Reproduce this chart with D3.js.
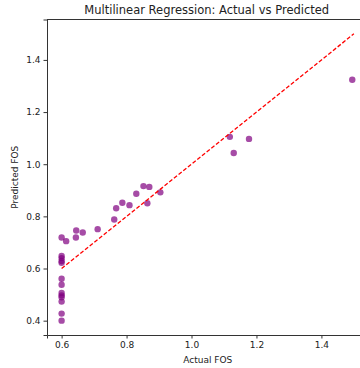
<head>
	<script src="https://d3js.org/d3.v7.min.js"></script>
	<style type="text/css">
		body { margin: 0; background: #fff; }
		text { font-family: 'DejaVu Sans', sans-serif; fill: #222; }
		.axis path, .axis line { stroke: #333; }
	</style>
</head>
<body>
	<script type="text/javascript">
		// actual vs predicted FOS
		const actual = [0.6, 0.614, 0.645, 0.644, 0.665, 0.711, 0.762, 0.768, 0.787, 0.809,
			0.83, 0.852, 0.870, 0.864, 0.904,
			0.6, 0.6, 0.6, 0.6, 0.6, 0.6, 0.6, 0.6, 0.6, 0.6, 0.6, 0.6,
			1.118, 1.177, 1.13, 1.495]
		const predicted = [0.719, 0.705, 0.746, 0.719, 0.738, 0.751, 0.788, 0.831, 0.852, 0.843,
			0.887, 0.916, 0.913, 0.850, 0.892,
			0.648, 0.64, 0.629, 0.622, 0.561, 0.538, 0.506, 0.497, 0.49, 0.473, 0.427, 0.40,
			1.105, 1.097, 1.043, 1.324]
		const xTicks = [0.6, 0.8, 1.0, 1.2, 1.4]
		const yTicks = [0.4, 0.6, 0.8, 1.0, 1.2, 1.4]
		const idealLine = [0.6, 1.5]

		const W = 360, H = 368
		const margin = {top: 19.5, right: -8.5, bottom: 33, left: 47}
		const width = W - margin.left - margin.right,
			  height = H - margin.top - margin.bottom

		const svg = d3.select('body').append('svg')
				.attr('width', W)
				.attr('height', H)
			.append('g')
				.attr('transform', 'translate('+margin.left+','+margin.top+')')

		const x = d3.scaleLinear()
			.domain([0.555, 1.545])
			.range([0, width])
		const y = d3.scaleLinear()
			.domain([0.345, 1.555])
			.range([height, 0])

		svg.append('g')
			.attr('class', 'axis')
			.attr('transform', 'translate(0,'+height+')')
			.call(d3.axisBottom(x).tickValues(xTicks).tickFormat(d3.format('.1f')).tickSize(3.5).tickPadding(3))
			.selectAll('text').style('font-size', '9px')

		svg.append('g')
			.attr('class', 'axis')
			.call(d3.axisLeft(y).tickValues(yTicks).tickFormat(d3.format('.1f')).tickSize(3.5).tickPadding(3))
			.selectAll('text').style('font-size', '9px')

		// top and right spines
		svg.append('line')
			.attr('x1', 0).attr('x2', width)
			.attr('y1', 0).attr('y2', 0)
			.attr('stroke', '#333')
		svg.append('line')
			.attr('x1', width).attr('x2', width)
			.attr('y1', 0).attr('y2', height)
			.attr('stroke', '#333')

		const pts = actual.map((a, i) => ({a: a, p: predicted[i]}))
		svg.append('g').selectAll('circle')
			.data(pts)
			.enter().append('circle')
			.attr('cx', d => x(d.a))
			.attr('cy', d => y(d.p))
			.attr('r', 3.2)
			.style('fill', 'purple')
			.style('fill-opacity', 0.7)

		svg.append('line')
			.attr('x1', x(idealLine[0])).attr('y1', y(idealLine[0]))
			.attr('x2', x(idealLine[1])).attr('y2', y(idealLine[1]))
			.attr('stroke', 'red')
			.attr('stroke-width', 1.3)
			.attr('stroke-dasharray', '4,2')

		svg.append('text')
			.attr('x', width / 2 - 1)
			.attr('y', -6)
			.attr('text-anchor', 'middle')
			.style('font-size', '11.5px')
			.text('Multilinear Regression: Actual vs Predicted')

		svg.append('text')
			.attr('x', width / 2)
			.attr('y', height + 28)
			.attr('text-anchor', 'middle')
			.style('font-size', '9px')
			.text('Actual FOS')

		svg.append('text')
			.attr('transform', 'translate(-29,'+(height/2)+') rotate(-90)')
			.attr('text-anchor', 'middle')
			.style('font-size', '9px')
			.text('Predicted FOS')
	</script>
</body>
